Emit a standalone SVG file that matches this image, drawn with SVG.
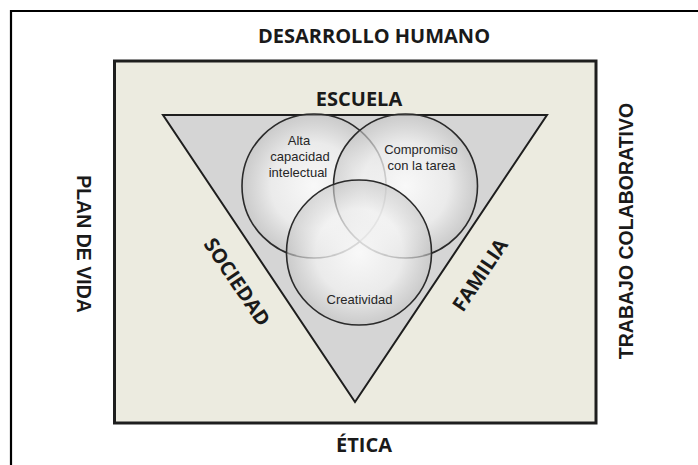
<svg xmlns="http://www.w3.org/2000/svg" width="698" height="465" viewBox="0 0 698 465">
<defs>
<radialGradient id="cg" cx="50%" cy="50%" r="50%">
<stop offset="0%" stop-color="#ffffff" stop-opacity="0.85"/>
<stop offset="60%" stop-color="#f4f4f4" stop-opacity="0.7"/>
<stop offset="100%" stop-color="#c4c4c4" stop-opacity="0.6"/>
</radialGradient>
</defs>
<style>
.lbl{font-family:"Open Sans","Noto Sans",sans-serif;font-weight:bold;font-size:20px;fill:#1a1a1a;text-anchor:middle}
.side{font-family:"Liberation Sans",Arial,sans-serif;font-weight:bold;font-size:19.5px;fill:#1a1a1a;text-anchor:middle}
.ct{font-family:"Liberation Sans",Arial,sans-serif;font-size:13px;fill:#262626;text-anchor:middle}
.circ{fill:url(#cg);stroke:#2a2a2a;stroke-width:1.6}
</style>
<rect width="698" height="465" fill="#ffffff"/>
<g id="frame">
<path d="M11,465 V11 H698" fill="none" stroke="#000" stroke-width="2.2"/>
</g>
<g id="desarrollo-humano">
<text class="lbl" x="374" y="43">DESARROLLO HUMANO</text>
</g>
<g id="plan-de-vida">
<text class="side" transform="translate(77,244) rotate(90)" x="0" y="0">PLAN DE VIDA</text>
</g>
<g id="trabajo-colaborativo">
<text class="side" transform="translate(633,231) rotate(-90)" x="0" y="0">TRABAJO COLABORATIVO</text>
</g>
<g id="marco">
<rect x="114.5" y="61" width="481.5" height="362" fill="#ecebe0" stroke="#1e1e1e" stroke-width="3"/>
</g>
<g id="etica">
<text class="lbl" x="364" y="452">ÉTICA</text>
</g>
<g id="triangulo">
<polygon points="163,115 547,115 355,402" fill="#d5d5d5" stroke="#1e1e1e" stroke-width="2"/>
</g>
<g id="escuela">
<text class="lbl" x="359" y="106">ESCUELA</text>
</g>
<g id="sociedad">
<text class="lbl" transform="translate(237,282) rotate(56)" x="0" y="7">SOCIEDAD</text>
</g>
<g id="familia">
<text class="lbl" transform="translate(480,275) rotate(-56)" x="0" y="7">FAMILIA</text>
</g>
<g id="alta-capacidad">
<circle class="circ" cx="314" cy="186" r="72"/>
</g>
<g id="compromiso">
<circle class="circ" cx="405.5" cy="186" r="72"/>
</g>
<g id="creatividad">
<circle class="circ" cx="359" cy="252.5" r="72.5"/>
</g>
<g id="circle-labels">
<text class="ct" x="299" y="145">Alta</text>
<text class="ct" x="300" y="161">capacidad</text>
<text class="ct" x="298" y="177">intelectual</text>
<text class="ct" x="421" y="154">Compromiso</text>
<text class="ct" x="421.5" y="170">con la tarea</text>
<text class="ct" x="359.5" y="304">Creatividad</text>
</g>
</svg>
